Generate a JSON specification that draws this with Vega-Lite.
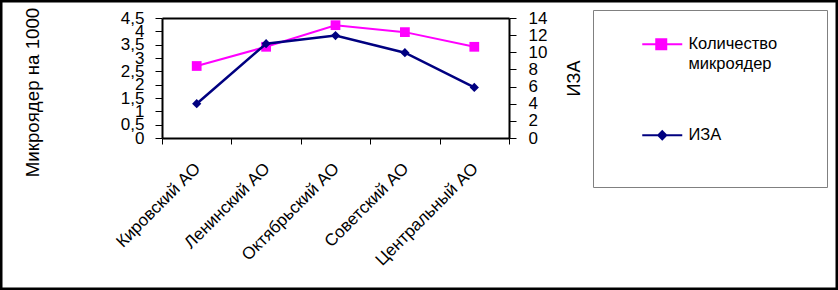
{
  "$schema": "https://vega.github.io/schema/vega-lite/v6.json",
  "width": 838,
  "height": 290,
  "autosize": "none",
  "padding": 0,
  "background": "white",
  "config": {
    "font": "Liberation Sans",
    "view": {"stroke": "black", "strokeWidth": 5}
  },
  "data": {
    "values": [
      {"district": "Кировский АО", "micro": 2.7, "iza": 4},
      {"district": "Ленинский АО", "micro": 3.42, "iza": 11},
      {"district": "Октябрьский АО", "micro": 4.23, "iza": 11.95},
      {"district": "Советский АО", "micro": 3.97, "iza": 9.95},
      {"district": "Центральный АО", "micro": 3.42, "iza": 5.9}
    ]
  },
  "layer": [
    {
      "encoding": {
        "x": {
          "field": "district",
          "type": "nominal",
          "sort": null,
          "scale": {"range": [162, 509], "paddingInner": 0, "paddingOuter": 0},
          "axis": {
            "orient": "bottom",
            "offset": -152,
            "title": null,
            "labelAngle": -45,
            "labelFontSize": 17,
            "labelColor": "black",
            "labelPadding": 16,
            "labelOffset": -5,
            "tickBand": "extent",
            "tickSize": 6,
            "tickColor": "black",
            "domainColor": "black",
            "domainWidth": 2,
            "labelLimit": 300
          }
        },
        "y": {
          "field": "micro",
          "type": "quantitative",
          "scale": {"domain": [0, 4.5], "range": [138, 18], "nice": false, "zero": true},
          "axis": {
            "orient": "left",
            "offset": -162,
            "values": [0, 0.5, 1, 1.5, 2, 2.5, 3, 3.5, 4, 4.5],
            "labelExpr": "replace(format(datum.value, '.1~f'), '.', ',')",
            "title": "Микроядер на 1000",
            "titleFontSize": 18.7,
            "titleFontWeight": "normal",
            "titleColor": "black",
            "titlePadding": 78,
            "titleY": 92,
            "labelFontSize": 17,
            "labelColor": "black",
            "labelPadding": 11,
            "labelOverlap": false,
            "labelFlush": false,
            "tickSize": 7,
            "tickColor": "black",
            "domainColor": "black",
            "domainWidth": 2,
            "grid": false
          }
        }
      },
      "layer": [
        {"mark": {"type": "line", "color": "#FF00FF", "strokeWidth": 2}},
        {"mark": {"type": "point", "shape": "square", "filled": true, "opacity": 1, "color": "#FF00FF", "size": 95}}
      ]
    },
    {
      "encoding": {
        "x": {
          "field": "district",
          "type": "nominal",
          "sort": null,
          "scale": {"range": [162, 509], "paddingInner": 0, "paddingOuter": 0},
          "axis": {
            "orient": "top",
            "offset": -18,
            "title": null,
            "labels": false,
            "ticks": false,
            "domainColor": "black",
            "domainWidth": 2
          }
        },
        "y": {
          "field": "iza",
          "type": "quantitative",
          "scale": {"domain": [0, 14], "range": [138, 18], "nice": false},
          "axis": {
            "orient": "right",
            "offset": -329,
            "values": [0, 2, 4, 6, 8, 10, 12, 14],
            "title": "ИЗА",
            "titleFontSize": 18,
            "titleFontWeight": "normal",
            "titleColor": "black",
            "titleAngle": -90,
            "titleAlign": "center",
            "titleBaseline": "middle",
            "titleX": 65,
            "titleY": 78,
            "labelFontSize": 17,
            "labelColor": "black",
            "labelPadding": 12,
            "labelOverlap": false,
            "labelFlush": false,
            "tickSize": 7,
            "tickColor": "black",
            "domainColor": "black",
            "domainWidth": 2,
            "grid": false
          }
        }
      },
      "layer": [
        {"mark": {"type": "line", "color": "#000080", "strokeWidth": 2.5}},
        {"mark": {"type": "point", "shape": "diamond", "filled": true, "opacity": 1, "color": "#000080", "size": 85}}
      ]
    },
    {
      "data": {"values": [{"series": "Количество микроядер"}, {"series": "ИЗА"}]},
      "mark": {"type": "point", "filled": true, "opacity": 0, "strokeWidth": 2},
      "encoding": {
        "color": {
          "field": "series",
          "type": "nominal",
          "scale": {"domain": ["Количество микроядер", "ИЗА"], "range": ["#FF00FF", "#000080"]},
          "legend": {
            "orient": "none",
            "legendX": 593,
            "legendY": 10,
            "title": null,
            "padding": 26,
            "strokeColor": "#808080",
            "fillColor": "white",
            "labelFontSize": 16.5,
            "labelColor": "black",
            "labelLimit": 300,
            "labelOffset": 53,
            "labelExpr": "datum.label == 'Количество микроядер' ? ['Количество', 'микроядер'] : datum.label",
            "symbolSize": 100,
            "symbolStrokeWidth": 2,
            "symbolOpacity": 1,
            "rowPadding": 54,
            "encoding": {
              "symbols": {
                "fill": {"condition": {"test": "datum.value == 'ИЗА'", "value": "#000080"}, "value": "#FF00FF"},
                "stroke": {"condition": {"test": "datum.value == 'ИЗА'", "value": "#000080"}, "value": "#FF00FF"}
              },
              "labels": {"lineHeight": {"value": 20}}
            }
          }
        },
        "shape": {
          "field": "series",
          "type": "nominal",
          "scale": {
            "domain": ["Количество микроядер", "ИЗА"],
            "range": [
              "M-1.2,0M3,0H11M5.8,-1H7.8V1H5.8Z",
              "M-1.2,0M3,0H11M7,-0.8L7.8,0L7,0.8L6.2,0ZM33.8,4.3"
            ]
          }
        }
      }
    }
  ],
  "resolve": {
    "scale": {"y": "independent", "x": "independent"},
    "axis": {"y": "independent", "x": "independent"}
  }
}
